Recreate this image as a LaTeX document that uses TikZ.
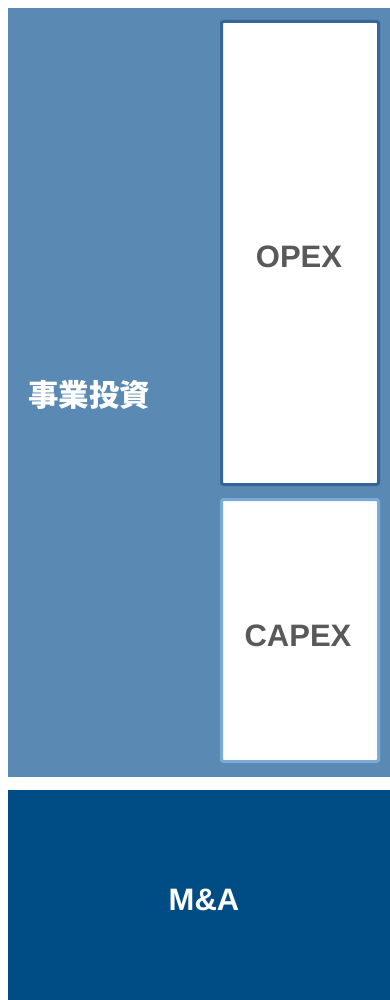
\documentclass[tikz,border=0pt]{standalone}
\usepackage{fontspec}
\setmainfont{Liberation Sans}
\newfontfamily\cjk{Noto Sans CJK JP}
\definecolor{midblue}{HTML}{5A89B4}
\definecolor{deepblue}{HTML}{004C84}
\definecolor{opexline}{HTML}{35659A}
\definecolor{capexline}{HTML}{7AAAD5}
\definecolor{labelgray}{HTML}{595959}
\tikzset{
  panel/.style={fill=#1, draw=none},
  costbox/.style={fill=white, draw=#1, line width=3pt, rounded corners=1.5pt},
  whitelabel/.style={text=white, font=\bfseries\fontsize{31}{36}\selectfont},
  graylabel/.style={text=labelgray, font=\bfseries\fontsize{31}{36}\selectfont}
}
\begin{document}
\begin{tikzpicture}[x=1pt,y=-1pt]
\useasboundingbox (0,0) rectangle (390,1000);
\fill[white] (0,0) rectangle (390,1000);
\path[panel=midblue] (8,8) rectangle (390,777);
\path[panel=deepblue] (8,790) rectangle (390,1000);
\draw[costbox=opexline] (221.5,21.5) rectangle (378.5,484.5);
\draw[costbox=capexline] (221.5,499.5) rectangle (378.5,761.5);
\node[whitelabel, font=\cjk\bfseries\fontsize{30.5}{36}\selectfont] (jigyo) at (89,395) {事業投資};
\node[graylabel] (opex) at (299,257) {OPEX};
\node[graylabel] (capex) at (298,636) {CAPEX};
\node[whitelabel] (ma) at (204,900) {M\&A};
\end{tikzpicture}
\end{document}
